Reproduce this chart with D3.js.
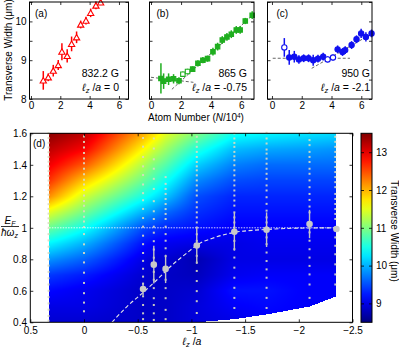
<!DOCTYPE html>
<html>
<head>
<meta charset="utf-8">
<script src="https://cdn.jsdelivr.net/npm/d3@7"></script>
<style>
body { margin: 0; background: #fff; }
svg { font-family: "Liberation Sans", Arial, sans-serif; }
</style>
</head>
<body>
<svg id="chart" width="399" height="349"></svg>
<script>
// (a) 832.2 G
const aN = [0.84, 1.18, 1.52, 1.86, 2.11, 2.47, 2.77, 3.11, 3.39, 3.75, 4.07, 4.43, 4.75];
const aW = [8.48, 8.56, 8.73, 8.875, 9.22, 9.11, 9.42, 9.59, 9.92, 10.02, 10.22, 10.41, 10.49];
const aErr = [0.24, 0.1, 0.15, 0.13, 0.22, 0.17, 0.19, 0.15, 0.1, 0.1, 0.11, 0.1, 0.07];

// (b) 865 G
const bN = [0.66, 0.84, 1.17, 1.5, 1.86, 2.12, 2.43, 2.77, 3.12, 3.45, 3.76, 4.12, 4.43, 4.74, 5.05, 5.34, 5.67, 5.93, 6.27, 6.73];
const bW = [8.53, 8.46, 8.51, 8.52, 8.47, 8.64, 8.71, 8.77, 8.92, 9.0, 9.04, 9.22, 9.35, 9.52, 9.6, 9.67, 9.78, 9.78, 10.01, 10.16];
const bErr = [0.39, 0.2, 0.15, 0.12, 0.09, 0.07, 0.07, 0.07, 0.08, 0.08, 0.08, 0.1, 0.1, 0.1, 0.1, 0.1, 0.1, 0.1, 0.08, 0.1];
const bOpen = [false, false, false, false, false, true, true, false, false, false, false, false, false, false, false, false, false, false, false, false];
const bFlat = [[0, 8.56], [2.82, 8.43]];
const bRise = [[1.39, 8.25], [6.84, 10.19]];

// (c) 950 G
const cN = [0.83, 1.16, 1.5, 1.81, 2.13, 2.46, 2.77, 3.09, 3.44, 3.74, 4.1, 4.41, 4.74, 4.92, 5.35, 5.68, 5.99, 6.31, 6.69];
const cW = [9.33, 9.07, 9.09, 9.02, 9.05, 9.05, 9.0, 9.04, 9.09, 9.02, 9.07, 9.28, 9.21, 9.26, 9.39, 9.54, 9.69, 9.6, 9.69];
const cErr = [0.24, 0.19, 0.15, 0.11, 0.1, 0.1, 0.14, 0.1, 0.1, 0.08, 0.08, 0.1, 0.1, 0.1, 0.1, 0.1, 0.12, 0.12, 0.1];
const cOpen = [true, false, false, false, false, false, false, false, false, true, true, false, false, false, false, false, false, false, false];
const cFlat = [[0.05, 9.05], [5.24, 9.05]];
const cRise = [[2.67, 8.79], [6.74, 9.69]];

// (d) width map, columns at lz/a, rows at EF/hw
const gridL = [0.33, 0, -0.55, -0.65, -0.76, -1.05, -1.4, -1.7, -2.1, -2.35];
const gridE = [0.4, 0.5, 0.6, 0.7, 0.8, 0.9, 1.0, 1.1, 1.2, 1.3, 1.4, 1.5, 1.6];
const gridW = [
  [8.9, 9.0, 9.15, 9.4, 9.85, 10.35, 10.9, 11.5, 12.2, 12.65, 12.95, 13.2, 13.45],
  [8.9, 9.0, 9.05, 9.25, 9.6, 10.0, 10.45, 10.95, 11.4, 11.9, 12.45, 12.9, 13.2],
  [8.85, 8.85, 8.85, 8.9, 9.0, 9.2, 9.5, 10.0, 10.5, 10.9, 11.25, 11.65, 12.05],
  [8.85, 8.85, 8.85, 8.85, 8.9, 9.1, 9.4, 9.85, 10.3, 10.7, 11.0, 11.4, 11.8],
  [8.85, 8.85, 8.85, 8.85, 8.9, 9.05, 9.3, 9.65, 10.1, 10.45, 10.8, 11.15, 11.5],
  [8.95, 8.95, 8.9, 8.8, 8.75, 9.0, 9.2, 9.35, 9.5, 9.8, 10.15, 10.55, 11.0],
  [9.0, 9.1, 9.2, 9.05, 9.0, 9.0, 9.1, 9.2, 9.3, 9.5, 9.75, 10.05, 10.45],
  [9.1, 9.15, 9.2, 9.1, 9.0, 9.05, 9.1, 9.2, 9.3, 9.45, 9.65, 9.95, 10.35],
  [9.1, 9.1, 9.1, 9.1, 9.0, 9.05, 9.1, 9.2, 9.3, 9.45, 9.65, 9.9, 10.25],
  [9.1, 9.1, 9.1, 9.1, 9.0, 9.05, 9.1, 9.2, 9.3, 9.45, 9.65, 9.85, 10.2]
];
const lowE = [0.4, 0.4, 0.4, 0.4, 0.4, 0.4, 0.42, 0.45, 0.5, 0.565];

// measured points (small dots)
const dotL = [0.33, 0, -0.55, -0.65, -0.76, -1.05, -1.4, -1.7, -2.1, -2.34];
const dotE = [
  [1.6, 1.57, 1.54, 1.51, 1.48, 1.45, 1.42, 1.39, 1.36, 1.33, 1.3, 1.27, 1.24, 1.21, 1.18, 1.15, 1.12, 1.09, 1.06, 1.03, 1.0, 0.96, 0.92, 0.88, 0.84, 0.8, 0.76, 0.72, 0.68, 0.64, 0.6, 0.56, 0.52, 0.48, 0.44, 0.41],
  [1.58, 1.545, 1.51, 1.475, 1.44, 1.41, 1.375, 1.34, 1.305, 1.275, 1.24, 1.205, 1.17, 1.14, 1.105, 1.07, 1.04, 1.005, 0.96, 0.895, 0.84, 0.78, 0.715, 0.65, 0.585, 0.525, 0.47],
  [1.57, 1.515, 1.45, 1.39, 1.335, 1.275, 1.22, 1.175, 1.12, 1.062, 1.007, 0.95, 0.896, 0.84, 0.79, 0.74, 0.69, 0.645, 0.565, 0.51, 0.457, 0.42],
  [1.567, 1.503, 1.435, 1.375, 1.311, 1.247, 1.169, 1.105, 1.056, 1.007, 0.969, 0.915, 0.862, 0.81, 0.72, 0.67, 0.617, 0.553, 0.51, 0.457, 0.415],
  [1.322, 1.279, 1.247, 1.215, 1.183, 1.151, 1.119, 1.088, 1.056, 1.007, 0.96, 0.918, 0.87, 0.82, 0.67, 0.617, 0.553, 0.479, 0.42],
  [1.578, 1.546, 1.514, 1.482, 1.45, 1.418, 1.39, 1.365, 1.333, 1.301, 1.269, 1.237, 1.205, 1.162, 1.13, 1.098, 1.066, 1.034, 1.002, 0.959, 0.917, 0.822, 0.779, 0.726, 0.662, 0.598, 0.534, 0.459],
  [1.599, 1.567, 1.539, 1.514, 1.482, 1.454, 1.429, 1.397, 1.365, 1.333, 1.301, 1.269, 1.237, 1.205, 1.173, 1.141, 1.098, 1.066, 1.034, 1.002, 0.917, 0.864, 0.811, 0.747, 0.683, 0.619, 0.555, 0.491],
  [1.603, 1.567, 1.535, 1.497, 1.471, 1.439, 1.407, 1.375, 1.343, 1.311, 1.269, 1.237, 1.194, 1.152, 1.109, 1.066, 1.034, 1.003, 0.939, 0.896, 0.843, 0.789, 0.736, 0.683, 0.619, 0.555, 0.491],
  [1.603, 1.557, 1.525, 1.482, 1.45, 1.418, 1.375, 1.343, 1.301, 1.258, 1.215, 1.177, 1.135, 1.098, 0.971, 0.918, 0.864, 0.811, 0.758, 0.704, 0.64, 0.555],
  [1.578, 1.546, 1.514, 1.482, 1.45, 1.418, 1.386, 1.354, 1.322, 1.29, 1.258, 1.215, 1.183, 1.151, 1.119, 1.088, 1.056, 0.939, 0.886, 0.832, 0.768, 0.704, 0.64]
];

// crossover points with error bars, and fit
const crossL = [-0.55, -0.65, -0.76, -1.05, -1.4, -1.7, -2.1, -2.35];
const crossE = [0.611, 0.766, 0.739, 0.888, 0.975, 0.988, 1.024, 0.992];
const crossErr = [0.04, 0.12, 0.09, 0.117, 0.12, 0.11, 0.09, 0];
const fitL = [-0.26, -0.4, -0.55, -0.68, -0.8, -0.96, -1.05, -1.22, -1.4, -1.59, -1.71, -2.0, -2.35];
const fitE = [0.4, 0.5, 0.589, 0.67, 0.751, 0.841, 0.89, 0.939, 0.971, 0.985, 0.99, 0.998, 1.0];

const svg = d3.select("#chart");
const fmt = d3.format("");

function jet(v) {
    var t = (v - 8.5) / 5;
    var c = x => Math.max(0, Math.min(1, x));
    return [c(1.5 - Math.abs(4 * t - 3)), c(1.5 - Math.abs(4 * t - 2)), c(1.5 - Math.abs(4 * t - 1))];
}
function jetCss(v) {
    var c = jet(v);
    return d3.rgb(c[0] * 255, c[1] * 255, c[2] * 255).toString();
}

// inside ticks on all four sides, like the original
function drawFrame(g, x, y, xTicks, yTicks, xFmt, yFmt, xPad, yPad) {
    var [x0, x1] = x.range(), [y0, y1] = y.range();
    g.append("g").attr("transform", "translate(0," + y0 + ")")
        .call(d3.axisBottom(x).tickValues(xTicks).tickSize(-3).tickPadding(xPad).tickFormat(xFmt));
    g.append("g").attr("transform", "translate(0," + y1 + ")")
        .call(d3.axisTop(x).tickValues(xTicks).tickSize(-3).tickFormat(""));
    g.append("g").attr("transform", "translate(" + x0 + ",0)")
        .call(d3.axisLeft(y).tickValues(yTicks).tickSize(-3).tickPadding(yPad).tickFormat(yFmt));
    g.append("g").attr("transform", "translate(" + x1 + ",0)")
        .call(d3.axisRight(y).tickValues(yTicks).tickSize(-3).tickFormat(""));
    g.selectAll(".domain").remove();
    g.selectAll(".tick line").attr("stroke", "#000").attr("stroke-width", 0.8);
    g.selectAll(".tick text").attr("font-family", "Liberation Sans, Arial, sans-serif").attr("font-size", 10).attr("fill", "#000");
    g.append("rect")
        .attr("x", x0).attr("y", y1)
        .attr("width", x1 - x0).attr("height", y0 - y1)
        .attr("fill", "none").attr("stroke", "#000").attr("stroke-width", 1);
}

function lzText(sel, x, y, value) {
    var t = sel.append("text").attr("x", x).attr("y", y).attr("text-anchor", "end").attr("font-size", 10.5);
    t.append("tspan").attr("font-style", "italic").text("\u2113");
    t.append("tspan").attr("font-style", "italic").attr("font-size", 7.5).attr("dy", 2).text("z");
    t.append("tspan").attr("dy", -2).text(" /");
    t.append("tspan").attr("font-style", "italic").text("a");
    t.append("tspan").text(" = " + value);
}

// ---- panels (a)-(c)
const panels = [
    {x0: 29.5, x1: 128.5, dom: [-0.1, 6.65], N: aN, W: aW, err: aErr, open: aN.map(() => true), color: "#ff0000", shape: "tri",
     tag: "(a)", tagX: 35, field: "832.2 G", lz: "0", textX: 119, lines: []},
    {x0: 149.5, x1: 254, dom: [-0.1, 6.85], N: bN, W: bW, err: bErr, open: bOpen, color: "#1fae1f", shape: "sq",
     tag: "(b)", tagX: 156.5, field: "865 G", lz: "-0.75", textX: 247, lines: [bFlat, bRise]},
    {x0: 267.5, x1: 372, dom: [-0.3, 6.72], N: cN, W: cW, err: cErr, open: cOpen, color: "#1010f0", shape: "circ",
     tag: "(c)", tagX: 276.5, field: "950 G", lz: "-2.1", textX: 370, lines: [cFlat, cRise]}
];

panels.forEach(function (p, pi) {
    var g = svg.append("g");
    var x = d3.scaleLinear().domain(p.dom).range([p.x0, p.x1]);
    var y = d3.scaleLinear().domain([8, 10.5]).range([99, 2]);

    p.lines.forEach(function (l) {
        g.append("line")
            .attr("x1", x(l[0][0])).attr("y1", y(l[0][1]))
            .attr("x2", x(l[1][0])).attr("y2", y(l[1][1]))
            .attr("stroke", "#555").attr("stroke-width", 0.9).attr("stroke-dasharray", "3,2");
    });

    var pts = p.N.map((n, i) => ({n: n, w: p.W[i], e: p.err[i], open: p.open[i]}));
    g.selectAll(".err").data(pts).enter().append("line")
        .attr("x1", d => x(d.n)).attr("x2", d => x(d.n))
        .attr("y1", d => y(d.w - d.e)).attr("y2", d => y(d.w + d.e))
        .attr("stroke", p.color).attr("stroke-width", 1.5);

    var sym = p.shape == "tri" ? d3.symbol(d3.symbolTriangle, 17) :
              p.shape == "sq" ? d3.symbol(d3.symbolSquare, 20) : d3.symbol(d3.symbolCircle, 22);
    g.selectAll(".pt").data(pts).enter().append("path")
        .attr("d", sym)
        .attr("transform", d => "translate(" + x(d.n) + "," + (y(d.w) + (p.shape == "tri" ? 0.8 : 0)) + ")")
        .attr("fill", d => d.open ? "#fff" : p.color)
        .attr("stroke", p.color).attr("stroke-width", 1.1);

    drawFrame(g, x, y, [0, 2, 4, 6], d3.range(8, 10.51, 0.5),
        fmt, pi == 0 ? (d => Number.isInteger(d) ? fmt(d) : "") : "", 3, 3);

    g.append("text").attr("x", p.tagX).attr("y", 17).attr("font-size", 10).text(p.tag);
    g.append("text").attr("x", p.textX).attr("y", 76.5).attr("text-anchor", "end").attr("font-size", 10.5).text(p.field);
    lzText(g, p.textX, 91, p.lz);
});

svg.append("text")
    .attr("transform", "translate(12,50) rotate(-90)")
    .attr("text-anchor", "middle").attr("font-size", 10)
    .text("Transverse Width (\u03bcm)");

var xl = svg.append("text").attr("x", 196).attr("y", 121).attr("text-anchor", "middle").attr("font-size", 10);
xl.append("tspan").text("Atom Number (");
xl.append("tspan").attr("font-style", "italic").text("N");
xl.append("tspan").text("/10");
xl.append("tspan").attr("font-size", 6.5).attr("dy", -3.5).text("4");
xl.append("tspan").attr("dy", 3.5).text(")");

// ---- panel (d)
const dx = d3.scaleLinear().domain([0.5, -2.5]).range([30.3, 352.5]);
const dy = d3.scaleLinear().domain([0.4, 1.6]).range([322.3, 133.3]);
const dg = svg.append("g");

// heat map image
(function () {
    var px0 = Math.round(dx(gridL[0])), px1 = Math.round(dx(gridL[gridL.length - 1]));
    var py0 = Math.round(dy(1.6)), py1 = Math.round(dy(0.4));
    var w = px1 - px0, h = py1 - py0;
    var canvas = document.createElement("canvas");
    canvas.width = w; canvas.height = h;
    var ctx = canvas.getContext("2d");
    var img = ctx.createImageData(w, h);
    var colScales = gridW.map(col => d3.scaleLinear().domain(gridE).range(col).clamp(true));
    var low = d3.scaleLinear().domain(gridL).range(lowE).clamp(true);
    for (var j = 0; j < h; j++) {
        var E = dy.invert(py0 + j + 0.5);
        var rowScale = d3.scaleLinear().domain(gridL).range(colScales.map(s => s(E))).clamp(true);
        for (var i = 0; i < w; i++) {
            var L = dx.invert(px0 + i + 0.5);
            var k = (j * w + i) * 4;
            if (E < low(L)) { img.data[k + 3] = 0; continue; }
            var c = jet(rowScale(L));
            img.data[k] = c[0] * 255; img.data[k + 1] = c[1] * 255; img.data[k + 2] = c[2] * 255; img.data[k + 3] = 255;
        }
    }
    ctx.putImageData(img, 0, 0);
    dg.append("image")
        .attr("x", px0).attr("y", py0).attr("width", w).attr("height", h)
        .attr("preserveAspectRatio", "none")
        .attr("href", canvas.toDataURL());
})();

// measured points
dotL.forEach(function (l, ci) {
    dg.selectAll(null).data(dotE[ci]).enter().append("rect")
        .attr("x", dx(l) - 1).attr("y", d => dy(d) - 1)
        .attr("width", 2).attr("height", 2)
        .attr("fill", "#dcdcc0").attr("opacity", 0.9);
});

// E = 1 line
dg.append("line")
    .attr("x1", dx(0.5)).attr("x2", dx(-2.35))
    .attr("y1", dy(1)).attr("y2", dy(1))
    .attr("stroke", "#fff").attr("stroke-width", 0.9).attr("stroke-dasharray", "1.5,1.2").attr("opacity", 0.9);

// fit curve
dg.append("path")
    .datum(fitL.map((l, i) => [l, fitE[i]]))
    .attr("d", d3.line().x(d => dx(d[0])).y(d => dy(d[1])).curve(d3.curveMonotoneX))
    .attr("fill", "none").attr("stroke", "#e6e6e6").attr("stroke-width", 1.1).attr("stroke-dasharray", "4,2.5");

var cross = crossL.map((l, i) => ({l: l, e: crossE[i], err: crossErr[i]}));
dg.selectAll(".cerr").data(cross).enter().append("line")
    .attr("x1", d => dx(d.l)).attr("x2", d => dx(d.l))
    .attr("y1", d => dy(d.e - d.err)).attr("y2", d => dy(d.e + d.err))
    .attr("stroke", "#c4c4c4").attr("stroke-width", 1.4);
dg.selectAll(".cpt").data(cross).enter().append("circle")
    .attr("cx", d => dx(d.l)).attr("cy", d => dy(d.e)).attr("r", 3.3)
    .attr("fill", "#c8c8c8");

drawFrame(dg, dx, dy, [0.5, 0, -0.5, -1, -1.5, -2, -2.5], [0.4, 0.6, 0.8, 1, 1.2, 1.4, 1.6], fmt, fmt, 4.5, 3.3);

dg.append("text").attr("x", 33).attr("y", 147).attr("font-size", 10).text("(d)");

var xd = dg.append("text").attr("x", 192).attr("y", 345).attr("text-anchor", "middle").attr("font-size", 10.5);
xd.append("tspan").attr("font-style", "italic").text("\u2113");
xd.append("tspan").attr("font-style", "italic").attr("font-size", 7.5).attr("dy", 2).text("z");
xd.append("tspan").attr("dy", -2).text(" /");
xd.append("tspan").attr("font-style", "italic").text("a");

// fraction label EF / hbar omega_z
var fr = dg.append("g").attr("font-size", 10).attr("font-style", "italic").attr("text-anchor", "middle");
var num = fr.append("text").attr("x", 10).attr("y", 223.5);
num.append("tspan").text("E");
num.append("tspan").attr("font-size", 7).attr("dy", 2).text("F");
fr.append("line").attr("x1", 1).attr("x2", 19).attr("y1", 226.5).attr("y2", 226.5).attr("stroke", "#000").attr("stroke-width", 0.8);
var den = fr.append("text").attr("x", 9.5).attr("y", 235.5);
den.append("tspan").text("\u0127\u03c9");
den.append("tspan").attr("font-size", 7).attr("dy", 2).text("z");

// colour bar
const cbVals = d3.range(8.5, 13.51, 0.25);
const cb = d3.scaleLinear().domain([8.5, 13.5]).range([322.3, 133.3]);
var grad = svg.append("defs").append("linearGradient").attr("id", "jetgrad")
    .attr("x1", 0).attr("y1", 1).attr("x2", 0).attr("y2", 0);
grad.selectAll("stop").data(cbVals).enter().append("stop")
    .attr("offset", d => (d - 8.5) / 5)
    .attr("stop-color", d => jetCss(d));
var cbg = svg.append("g");
cbg.append("rect").attr("x", 361).attr("y", 133.3).attr("width", 11).attr("height", 189)
    .attr("fill", "url(#jetgrad)");
cbg.append("g").attr("transform", "translate(372,0)")
    .call(d3.axisRight(cb).tickValues([9, 10, 11, 12, 13]).tickSize(-3).tickPadding(4).tickFormat(fmt));
cbg.append("g").attr("transform", "translate(361,0)")
    .call(d3.axisLeft(cb).tickValues([9, 10, 11, 12, 13]).tickSize(-3).tickFormat(""));
cbg.selectAll(".domain").remove();
cbg.selectAll(".tick line").attr("stroke", "#000").attr("stroke-width", 0.8);
cbg.selectAll(".tick text").attr("font-family", "Liberation Sans, Arial, sans-serif").attr("font-size", 10);
cbg.append("rect").attr("x", 361).attr("y", 133.3).attr("width", 11).attr("height", 189)
    .attr("fill", "none").attr("stroke", "#000").attr("stroke-width", 1);

svg.append("text")
    .attr("transform", "translate(391,231) rotate(90)")
    .attr("text-anchor", "middle").attr("font-size", 10)
    .text("Transverse Width (\u03bcm)");
</script>
</body>
</html>
